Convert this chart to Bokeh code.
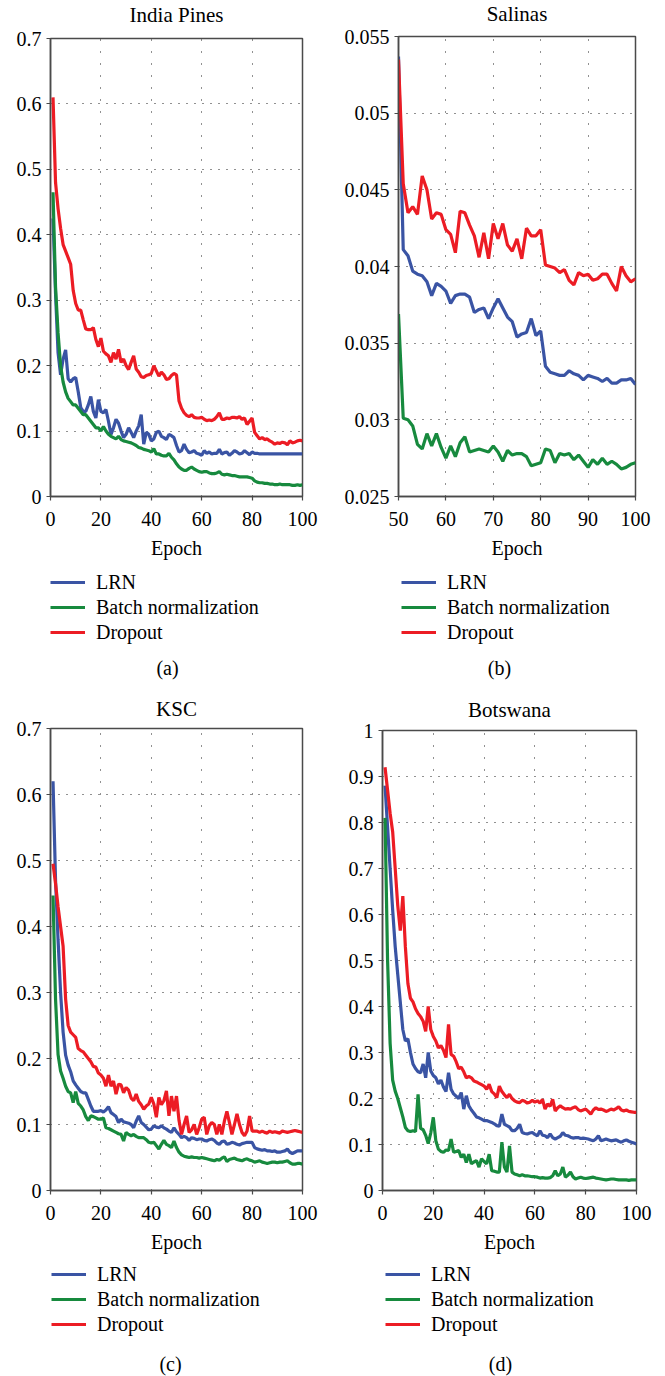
from bokeh.plotting import figure
from bokeh.layouts import column, row
from bokeh.models import Range1d, FixedTicker, Legend, LegendItem, Label, Title
from bokeh.embed import file_html
from bokeh.resources import INLINE

# ---------------- data ----------------
series_names = ["LRN", "Batch normalization", "Dropout"]
epochs_full = list(range(1, 101))
epochs_salinas = list(range(50, 101))

india_lrn = [0.425, 0.31, 0.22, 0.186, 0.21, 0.224, 0.18, 0.175, 0.18, 0.182,
             0.16, 0.136, 0.13, 0.13, 0.14, 0.153, 0.13, 0.12, 0.148, 0.13,
             0.128, 0.133, 0.115, 0.095, 0.105, 0.118, 0.112, 0.1, 0.09, 0.095,
             0.105, 0.098, 0.09, 0.1, 0.108, 0.125, 0.08, 0.098, 0.095, 0.085,
             0.088, 0.098, 0.1, 0.092, 0.09, 0.087, 0.095, 0.093, 0.09, 0.078,
             0.068, 0.07, 0.08, 0.072, 0.067, 0.068, 0.07, 0.066, 0.065, 0.063,
             0.07, 0.066, 0.068, 0.065, 0.066, 0.066, 0.072, 0.065, 0.067, 0.068,
             0.063, 0.066, 0.07, 0.068, 0.065, 0.066, 0.07, 0.067, 0.064, 0.068,
             0.066, 0.066, 0.065, 0.065, 0.065, 0.065, 0.065, 0.065, 0.065, 0.065,
             0.065, 0.065, 0.065, 0.065, 0.065, 0.065, 0.065, 0.065, 0.065, 0.065]
india_bn = [0.465, 0.32, 0.25, 0.2, 0.175, 0.16, 0.15, 0.145, 0.14, 0.14,
            0.135, 0.13, 0.125, 0.125, 0.12, 0.115, 0.11, 0.105, 0.105, 0.1,
            0.107, 0.1, 0.095, 0.092, 0.09, 0.088, 0.092, 0.087, 0.085, 0.084,
            0.083, 0.082, 0.08, 0.078, 0.075, 0.074, 0.072, 0.071, 0.07, 0.068,
            0.073, 0.065, 0.065, 0.063, 0.062, 0.062, 0.066, 0.06, 0.056, 0.05,
            0.045, 0.042, 0.04, 0.04, 0.043, 0.045, 0.042, 0.04, 0.038, 0.037,
            0.038, 0.038, 0.036, 0.035, 0.035, 0.036, 0.038, 0.034, 0.033, 0.034,
            0.033, 0.032, 0.032, 0.031, 0.03, 0.03, 0.03, 0.03, 0.029, 0.028,
            0.024, 0.022, 0.021, 0.021, 0.02, 0.02, 0.019, 0.019, 0.018, 0.018,
            0.019, 0.018, 0.018, 0.018, 0.018, 0.017, 0.017, 0.018, 0.017, 0.018]
india_drop = [0.61, 0.48, 0.44, 0.41, 0.385, 0.375, 0.365, 0.355, 0.315, 0.295,
              0.285, 0.285, 0.27, 0.256, 0.255, 0.255, 0.258, 0.24, 0.229, 0.242,
              0.222, 0.218, 0.215, 0.205, 0.22, 0.21, 0.225, 0.205, 0.21, 0.2,
              0.194, 0.205, 0.215, 0.195, 0.19, 0.183, 0.182, 0.185, 0.186, 0.188,
              0.2, 0.192, 0.184, 0.19, 0.186, 0.179, 0.18, 0.185, 0.188, 0.186,
              0.146, 0.135, 0.128, 0.124, 0.122, 0.125, 0.121, 0.12, 0.12, 0.121,
              0.118, 0.116, 0.117, 0.116, 0.118, 0.122, 0.128, 0.118, 0.118, 0.12,
              0.119, 0.121, 0.121, 0.12, 0.122, 0.118, 0.12, 0.11, 0.115, 0.12,
              0.098, 0.093, 0.088, 0.09, 0.087, 0.088, 0.085, 0.083, 0.08, 0.082,
              0.081, 0.083, 0.082, 0.079, 0.085, 0.082, 0.083, 0.085, 0.086, 0.085]

salinas_lrn = [0.0537, 0.0411, 0.0407, 0.0397, 0.0395, 0.0394, 0.039, 0.0381, 0.0389, 0.0387,
               0.0384, 0.0376, 0.0381, 0.0382, 0.0382, 0.038, 0.037, 0.0372, 0.0373, 0.0366,
               0.0373, 0.0379, 0.0373, 0.0367, 0.0364, 0.0354, 0.0356, 0.0357, 0.0366, 0.0355,
               0.0358, 0.0335, 0.0331, 0.033, 0.0329, 0.0329, 0.0332, 0.033, 0.0329, 0.0326,
               0.0329, 0.0328, 0.0327, 0.0325, 0.0327, 0.0324, 0.0324, 0.0326, 0.0326, 0.0327,
               0.0323]
salinas_bn = [0.0369, 0.0301, 0.0300, 0.0296, 0.0284, 0.0281, 0.0291, 0.0283, 0.0291, 0.0282,
              0.0275, 0.0283, 0.0276, 0.0285, 0.0289, 0.0279, 0.028, 0.0281, 0.028, 0.0279,
              0.0283, 0.0279, 0.0273, 0.028, 0.0277, 0.0278, 0.0278, 0.0276, 0.027, 0.0271,
              0.0272, 0.0281, 0.028, 0.0272, 0.0278, 0.0277, 0.0278, 0.0274, 0.0277, 0.0273,
              0.0269, 0.0274, 0.0271, 0.0275, 0.0271, 0.0273, 0.0271, 0.0268, 0.0269, 0.0271,
              0.0272]
salinas_drop = [0.0535, 0.0454, 0.0435, 0.0439, 0.0434, 0.0459, 0.045, 0.0431, 0.0435, 0.0434,
                0.0424, 0.0421, 0.0409, 0.0436, 0.0435, 0.0427, 0.042, 0.0406, 0.0422, 0.0405,
                0.0428, 0.0418, 0.0428, 0.0414, 0.041, 0.0418, 0.0405, 0.0425, 0.042, 0.042,
                0.0424, 0.0401, 0.04, 0.0399, 0.0396, 0.0398, 0.0391, 0.0388, 0.0396, 0.0394,
                0.0395, 0.0391, 0.0392, 0.0395, 0.0395, 0.0389, 0.0384, 0.04, 0.0394, 0.039,
                0.0392]

ksc_lrn = [0.62, 0.47, 0.38, 0.30, 0.24, 0.205, 0.19, 0.18, 0.166, 0.16,
           0.155, 0.15, 0.148, 0.148, 0.138, 0.128, 0.12, 0.12, 0.12, 0.121,
           0.119, 0.122, 0.127, 0.118, 0.115, 0.112, 0.103, 0.108, 0.104, 0.103,
           0.102, 0.1, 0.095, 0.105, 0.113, 0.103, 0.1, 0.096, 0.092, 0.093,
           0.098, 0.096, 0.095, 0.098, 0.095, 0.093, 0.09, 0.088, 0.095, 0.089,
           0.085, 0.08, 0.082, 0.08, 0.076, 0.08, 0.079, 0.077, 0.078, 0.078,
           0.076, 0.075, 0.077, 0.078, 0.076, 0.072, 0.07, 0.074, 0.075, 0.07,
           0.071, 0.073, 0.072, 0.07, 0.069, 0.071, 0.072, 0.073, 0.073, 0.073,
           0.065, 0.063, 0.062, 0.061, 0.062, 0.06, 0.06, 0.059, 0.06, 0.058,
           0.058, 0.059, 0.06, 0.063, 0.058, 0.056, 0.058, 0.06, 0.06, 0.06]
ksc_bn = [0.447, 0.29, 0.206, 0.181, 0.17, 0.158, 0.15, 0.148, 0.133, 0.15,
          0.132, 0.128, 0.122, 0.112, 0.106, 0.113, 0.112, 0.11, 0.108, 0.108,
          0.11, 0.095, 0.094, 0.092, 0.09, 0.088, 0.086, 0.085, 0.075, 0.088,
          0.085, 0.083, 0.085, 0.082, 0.08, 0.08, 0.08, 0.077, 0.073, 0.072,
          0.073, 0.068, 0.063, 0.07, 0.076, 0.07, 0.068, 0.065, 0.075, 0.065,
          0.058, 0.054, 0.052, 0.051, 0.05, 0.051, 0.05, 0.05, 0.049, 0.05,
          0.049, 0.048, 0.047, 0.046, 0.045, 0.047, 0.046, 0.049, 0.051, 0.044,
          0.047, 0.048, 0.049, 0.047, 0.046, 0.045, 0.047, 0.048, 0.046, 0.045,
          0.043, 0.044, 0.045, 0.043, 0.042, 0.041, 0.042, 0.043, 0.043, 0.042,
          0.043, 0.043, 0.044, 0.045, 0.042, 0.04, 0.04, 0.041, 0.041, 0.04]
ksc_drop = [0.495, 0.465, 0.43, 0.40, 0.37, 0.29, 0.25, 0.24, 0.236, 0.232,
            0.215, 0.212, 0.21, 0.205, 0.2, 0.195, 0.188, 0.187, 0.178, 0.175,
            0.17, 0.158, 0.175, 0.158, 0.166, 0.146, 0.161, 0.16, 0.148, 0.156,
            0.152, 0.14, 0.136, 0.146, 0.135, 0.13, 0.123, 0.128, 0.131, 0.141,
            0.131, 0.111, 0.141, 0.13, 0.136, 0.151, 0.113, 0.143, 0.12, 0.143,
            0.106, 0.085, 0.1, 0.113, 0.088, 0.092, 0.1, 0.085, 0.095, 0.108,
            0.111, 0.085, 0.098, 0.103, 0.1, 0.085, 0.1, 0.085, 0.105, 0.12,
            0.103, 0.085, 0.1, 0.116, 0.1, 0.088, 0.083, 0.09, 0.113, 0.09,
            0.09, 0.09, 0.088, 0.09, 0.088, 0.087, 0.09, 0.088, 0.089, 0.088,
            0.087, 0.09, 0.089, 0.088, 0.089, 0.09, 0.091, 0.09, 0.089, 0.088]

bots_lrn = [0.88, 0.79, 0.70, 0.61, 0.53, 0.47, 0.41, 0.35, 0.325, 0.33,
            0.3, 0.275, 0.265, 0.258, 0.256, 0.275, 0.245, 0.3, 0.26, 0.25,
            0.245, 0.232, 0.24, 0.225, 0.215, 0.256, 0.22, 0.21, 0.205, 0.2,
            0.213, 0.177, 0.206, 0.184, 0.175, 0.168, 0.16, 0.158, 0.155, 0.152,
            0.152, 0.15, 0.148, 0.145, 0.141, 0.14, 0.166, 0.144, 0.141, 0.138,
            0.13, 0.13, 0.135, 0.144, 0.126, 0.124, 0.123, 0.125, 0.126, 0.122,
            0.119, 0.13, 0.12, 0.119, 0.115, 0.123, 0.115, 0.112, 0.115, 0.118,
            0.126, 0.12, 0.119, 0.116, 0.114, 0.115, 0.115, 0.113, 0.114, 0.113,
            0.112, 0.11, 0.108, 0.112, 0.119, 0.108, 0.11, 0.112, 0.11, 0.108,
            0.109, 0.11, 0.107, 0.105, 0.108, 0.11, 0.107, 0.105, 0.103, 0.101]
bots_bn = [0.81, 0.50, 0.32, 0.24, 0.216, 0.2, 0.18, 0.16, 0.137, 0.13,
           0.128, 0.13, 0.128, 0.209, 0.135, 0.132, 0.12, 0.102, 0.125, 0.159,
           0.108, 0.09, 0.085, 0.083, 0.088, 0.087, 0.112, 0.083, 0.085, 0.087,
           0.072, 0.079, 0.061, 0.079, 0.058, 0.062, 0.065, 0.051, 0.069, 0.063,
           0.058, 0.079, 0.043, 0.042, 0.04, 0.04, 0.105, 0.051, 0.04, 0.097,
           0.04, 0.036, 0.034, 0.032, 0.034, 0.032, 0.032, 0.031, 0.03, 0.03,
           0.029, 0.027, 0.028, 0.027, 0.027, 0.028, 0.032, 0.043, 0.032, 0.036,
           0.051, 0.029, 0.033, 0.04, 0.03, 0.025, 0.027, 0.029, 0.027, 0.026,
           0.027, 0.028, 0.029, 0.027, 0.026, 0.025, 0.024, 0.023, 0.024, 0.025,
           0.025, 0.024, 0.023, 0.023, 0.023, 0.023, 0.022, 0.023, 0.023, 0.023]
bots_drop = [0.92, 0.87, 0.82, 0.78, 0.70, 0.62, 0.565, 0.64, 0.53, 0.45,
             0.418, 0.41, 0.395, 0.385, 0.378, 0.368, 0.346, 0.40, 0.35, 0.335,
             0.325, 0.31, 0.315, 0.305, 0.289, 0.361, 0.296, 0.292, 0.28, 0.265,
             0.268, 0.258, 0.245, 0.248, 0.245, 0.238, 0.236, 0.233, 0.23, 0.227,
             0.22, 0.231, 0.215, 0.21, 0.202, 0.227, 0.215, 0.208, 0.202, 0.209,
             0.2, 0.195, 0.192, 0.191, 0.196, 0.194, 0.19, 0.192, 0.196, 0.192,
             0.195, 0.19, 0.198, 0.177, 0.188, 0.183, 0.198, 0.173, 0.18, 0.184,
             0.18, 0.177, 0.178, 0.177, 0.18, 0.182, 0.176, 0.173, 0.175, 0.177,
             0.172, 0.166, 0.175, 0.18, 0.176, 0.177, 0.175, 0.172, 0.174, 0.177,
             0.175, 0.178, 0.182, 0.175, 0.173, 0.175, 0.172, 0.171, 0.17, 0.17]

ticks_x_full = [0, 20, 40, 60, 80, 100]
ticks_x_salinas = [50, 60, 70, 80, 90, 100]
ticks_y_07 = [0, 0.1, 0.2, 0.3, 0.4, 0.5, 0.6, 0.7]
labels_y_07 = ["0", "0.1", "0.2", "0.3", "0.4", "0.5", "0.6", "0.7"]
ticks_y_salinas = [0.025, 0.03, 0.035, 0.04, 0.045, 0.05, 0.055]
labels_y_salinas = ["0.025", "0.03", "0.035", "0.04", "0.045", "0.05", "0.055"]
ticks_y_1 = [0, 0.1, 0.2, 0.3, 0.4, 0.5, 0.6, 0.7, 0.8, 0.9, 1]
labels_y_1 = ["0", "0.1", "0.2", "0.3", "0.4", "0.5", "0.6", "0.7", "0.8", "0.9", "1"]

# ---------------- style ----------------
FONT = "Liberation Serif"
COLORS = ["#3a54a4", "#178a3e", "#ec1c24"]
AX = "#4a4a4a"
LW = 3.2


def make_plot(title, tstand, x, ys, xr, yr, xticks, yticks, ylabels,
              width, height, bl, br, bt, bb):
    ttl = Title(text=title, align="center", vertical_align="top", standoff=tstand,
                text_font=FONT, text_font_size="21px", text_font_style="normal",
                text_color="black")
    p = figure(width=width, height=height, x_range=Range1d(*xr), y_range=Range1d(*yr),
               output_backend="svg", toolbar_location=None, title=ttl,
               min_border_left=bl, min_border_right=br, min_border_top=bt, min_border_bottom=bb)
    p.outline_line_color = AX
    p.outline_line_width = 1.5
    p.outline_line_alpha = 1

    for ax in (p.xaxis[0], p.yaxis[0]):
        ax.axis_line_color = AX
        ax.axis_line_width = 1.5
        ax.major_tick_line_color = AX
        ax.major_tick_line_width = 1.2
        ax.major_tick_out = 4
        ax.major_tick_in = 0
        ax.minor_tick_line_color = None
        ax.major_label_text_font = FONT
        ax.major_label_text_font_size = "20px"
        ax.major_label_text_color = "black"
    p.xaxis.ticker = FixedTicker(ticks=xticks)
    p.yaxis.ticker = FixedTicker(ticks=yticks)
    p.yaxis.major_label_overrides = dict(zip(yticks, ylabels))
    p.xaxis.major_label_standoff = 11
    p.yaxis.major_label_standoff = 5
    p.xaxis.axis_label = "Epoch"
    p.xaxis.axis_label_text_font = FONT
    p.xaxis.axis_label_text_font_size = "20px"
    p.xaxis.axis_label_text_font_style = "normal"
    p.xaxis.axis_label_text_color = "black"
    p.xaxis.axis_label_standoff = 8

    p.xgrid.grid_line_color = "#222222"
    p.xgrid.grid_line_dash = "1 11"
    p.ygrid.grid_line_color = "#222222"
    p.ygrid.grid_line_dash = "1 7"

    for yv, c in zip(ys, COLORS):
        p.line(x, yv, line_color=c, line_width=LW)
    return p


def make_legend(caption, x, ys, xr, width, height, bl, br, leg_xy, cap_xy):
    # legend strip below a panel; the series are drawn again only as legend proxies
    # (the y range lies far above the data, so nothing shows but the legend)
    f = figure(width=width, height=height, x_range=Range1d(*xr), y_range=Range1d(10, 11),
               output_backend="svg", toolbar_location=None, title=None,
               x_axis_location=None, y_axis_location=None,
               min_border_left=bl, min_border_right=br,
               min_border_top=0, min_border_bottom=0)
    f.grid.visible = False
    f.outline_line_color = None
    rends = [f.line(x, yv, line_color=c, line_width=LW) for yv, c in zip(ys, COLORS)]
    items = [LegendItem(label=n, renderers=[r]) for n, r in zip(series_names, rends)]
    leg = Legend(items=items, location=leg_xy, orientation="vertical",
                 label_text_font=FONT, label_text_font_size="20px", label_text_color="black",
                 glyph_width=35, glyph_height=24, label_height=24, label_standoff=11,
                 spacing=1, padding=0, margin=0, border_line_color=None,
                 background_fill_alpha=0)
    f.add_layout(leg)
    f.add_layout(Label(x=cap_xy[0], y=cap_xy[1], x_units="screen", y_units="screen",
                       text=caption, text_align="center", text_baseline="middle",
                       text_font=FONT, text_font_size="20px", text_color="black"))
    return f


ya = [india_lrn, india_bn, india_drop]
pa = make_plot("India Pines", 20, epochs_full, ya,
               (0, 100), (0, 0.7), ticks_x_full, ticks_y_07, labels_y_07,
               330, 574, 50, 28, 44, 70)
la = make_legend("(a)", epochs_full, ya, (0, 100), 330, 124, 50, 28, (0, 46), (117, 23))

yb = [salinas_lrn, salinas_bn, salinas_drop]
pb = make_plot("Salinas", 18, epochs_salinas, yb,
               (50, 100), (0.025, 0.055), ticks_x_salinas, ticks_y_salinas, labels_y_salinas,
               334, 574, 68, 29, 43, 70)
lb = make_legend("(b)", epochs_salinas, yb, (50, 100), 334, 124, 68, 29, (3, 46), (101, 23))

yc = [ksc_lrn, ksc_bn, ksc_drop]
pc = make_plot("KSC", 12, epochs_full, yc,
               (0, 100), (0, 0.7), ticks_x_full, ticks_y_07, labels_y_07,
               330, 570, 50, 28, 36, 70)
lc = make_legend("(c)", epochs_full, yc, (0, 100), 330, 116, 50, 28, (1, 40), (120, 13))

yd = [bots_lrn, bots_bn, bots_drop]
pd_ = make_plot("Botswana", 14, epochs_full, yd,
                (0, 100), (0, 1), ticks_x_full, ticks_y_1, labels_y_1,
                334, 570, 52, 28, 38, 70)
ld = make_legend("(d)", epochs_full, yd, (0, 100), 334, 116, 52, 28, (3, 40), (118, 13))

top = row(column(pa, la), column(pb, lb), margin=(-8, 0, 0, 0))
bottom = row(column(pc, lc), column(pd_, ld))
p = column(top, bottom)
open("out.html", "w").write(file_html(p, INLINE))
